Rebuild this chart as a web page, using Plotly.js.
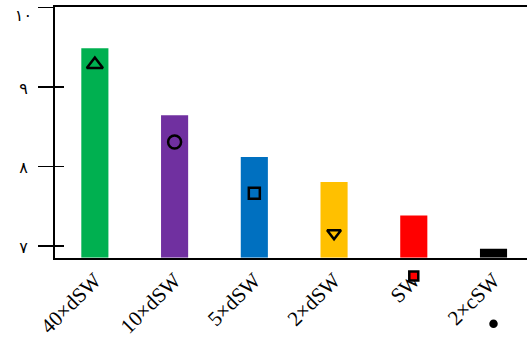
<!DOCTYPE html>
<html>
<head>
<meta charset="utf-8">
<script src="https://cdn.plot.ly/plotly-3.0.1.min.js"></script>
<style>html,body{margin:0;padding:0;background:#fff;}#chart{width:527px;height:338px;}</style>
</head>
<body>
<div id="chart"></div>
<script>
const categories = ["40×dSW", "10×dSW", "5×dSW", "2×dSW", "SW", "2×cSW"];
const barValues = [9.485, 8.643, 8.118, 7.804, 7.385, 6.966];
const markerValues = [9.283, 8.307, 7.662, 7.16, 6.623, 6.023];
const barColors = ["#00B050", "#7030A0", "#0070C0", "#FFC000", "#FF0000", "#000000"];
const markerSymbols = ["triangle-up-open", "circle-open", "square-open", "triangle-down-open", "square", "circle"];
const markerFill = ["#000000", "#000000", "#000000", "#000000", "#FF0000", "#000000"];
const markerSizes = [14, 13, 11, 12, 9, 6];
const tickValues = [7, 8, 9, 10];
const tickLabels = ["٧", "٨", "٩", "١٠"];
// the top label is drawn by the overlay axis so it can sit lower, as in the reference
const mainTickText = tickLabels.map((t, i) => i < tickLabels.length - 1 ? t : "");
const topTickText = tickLabels.map((t, i) => i === tickLabels.length - 1 ? t : "");

// plot area geometry (px)
const H = 338, mt = 7, mb = 6;
const plotH = H - mt - mb;
const axisBottomPx = 257.7;
const yRange = [6.853, 10.005];
const pxPerUnit = (axisBottomPx - mt) / (yRange[1] - yRange[0]);
const yDomainLow = (H - mb - axisBottomPx) / plotH;
const y3Range = [yRange[0] - (H - mb - axisBottomPx) / pxPerUnit, yRange[1]];

const traces = [
  {
    type: "bar",
    x: categories,
    y: barValues.map(v => v - yRange[0]),
    base: yRange[0],
    marker: {color: barColors, line: {width: 0}},
    hoverinfo: "skip",
    showlegend: false
  },
  {
    type: "scatter",
    mode: "markers",
    x: categories,
    y: markerValues,
    yaxis: "y3",
    marker: {
      symbol: markerSymbols,
      size: markerSizes,
      color: markerFill,
      opacity: 1,
      line: {color: "#000000", width: 2.5}
    },
    showlegend: false
  },
  {
    type: "scatter",
    mode: "markers",
    x: categories,
    y: barValues,
    yaxis: "y2",
    marker: {opacity: 0},
    hoverinfo: "skip",
    showlegend: false
  }
];

const layout = {
  width: 527,
  height: H,
  margin: {l: 55, r: 0, t: mt, b: mb, pad: 0},
  paper_bgcolor: "#ffffff",
  plot_bgcolor: "rgba(0,0,0,0)",
  bargap: 0.66,
  xaxis: {
    type: "category",
    anchor: "y",
    range: [-0.5, 5.42],
    showline: true,
    linecolor: "#000000",
    linewidth: 2,
    mirror: true,
    showgrid: false,
    zeroline: false,
    ticks: "",
    tickangle: -45,
    tickfont: {family: "Liberation Serif", size: 21, color: "#000000"}
  },
  yaxis: {
    domain: [yDomainLow, 1],
    range: yRange,
    tickvals: tickValues,
    ticktext: mainTickText,
    ticks: "outside",
    ticklen: 15,
    tickwidth: 1.5,
    tickcolor: "#000000",
    ticklabelstandoff: 7,
    ticklabelshift: 1,
    ticklabeloverflow: "allow",
    showline: true,
    linecolor: "#000000",
    linewidth: 2,
    showgrid: false,
    zeroline: false,
    tickfont: {family: "DejaVu Sans", size: 16, color: "#000000"}
  },
  yaxis2: {
    overlaying: "y",
    side: "left",
    range: yRange,
    tickvals: tickValues,
    ticktext: topTickText,
    ticks: "inside",
    ticklen: 9,
    tickwidth: 1.5,
    tickcolor: "#000000",
    showticklabels: true,
    ticklabelstandoff: 22,
    ticklabelshift: 8,
    ticklabeloverflow: "allow",
    tickfont: {family: "DejaVu Sans", size: 16, color: "#000000"},
    showline: false,
    showgrid: false,
    zeroline: false
  },
  yaxis3: {
    domain: [0, 1],
    anchor: "x",
    range: y3Range,
    visible: false,
    showgrid: false,
    zeroline: false
  }
};

Plotly.newPlot("chart", traces, layout, {displayModeBar: false, staticPlot: true});
</script>
</body>
</html>
